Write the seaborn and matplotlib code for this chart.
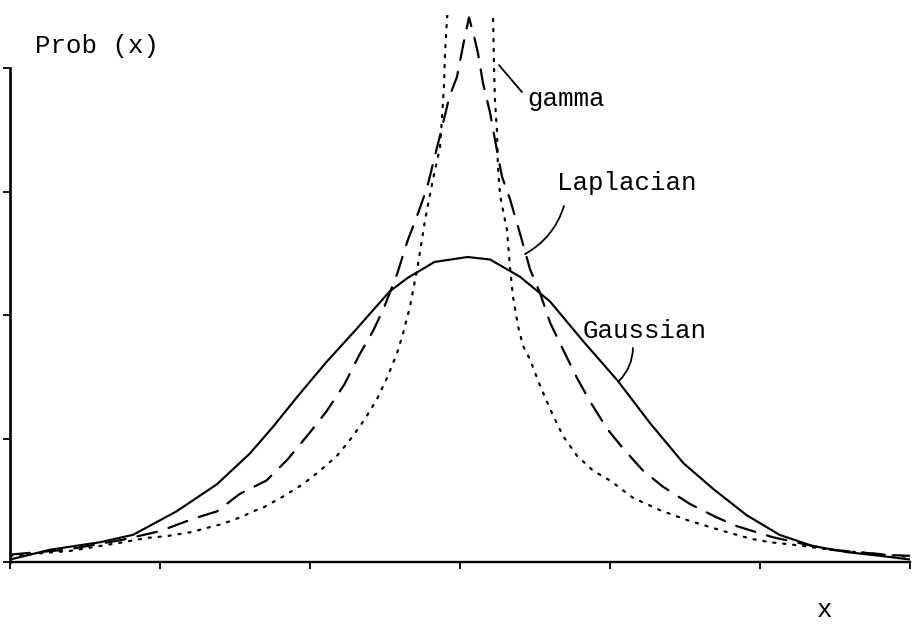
import numpy as np
import pandas as pd
import matplotlib
matplotlib.use("Agg")
import matplotlib.pyplot as plt
import seaborn as sns

# Gaussian density (solid)
gauss_x = [-3.0, -2.73, -2.4, -2.18, -1.89, -1.62, -1.4, -1.25, -1.07, -0.89,
           -0.71, -0.47, -0.35, -0.17, 0.05, 0.2, 0.4, 0.6, 0.82, 1.05,
           1.27, 1.49, 1.69, 1.91, 2.13, 2.35, 2.58, 2.8, 3.0]
gauss_y = [0.02, 0.10, 0.16, 0.22, 0.41, 0.63, 0.88, 1.09, 1.36, 1.62,
           1.86, 2.19, 2.30, 2.43, 2.47, 2.45, 2.31, 2.11, 1.79, 1.47,
           1.12, 0.80, 0.59, 0.38, 0.22, 0.13, 0.08, 0.05, 0.02]

# Laplacian density (dashed)
lap_x = [-3.0, -2.62, -2.25, -2.0, -1.78, -1.62, -1.47, -1.29, -1.15, -1.0,
         -0.89, -0.77, -0.67, -0.58, -0.51, -0.42, -0.35, -0.29, -0.22, -0.13,
         -0.07, -0.02, 0.03, 0.06, 0.093, 0.12, 0.153, 0.2, 0.233, 0.28,
         0.333, 0.4, 0.467, 0.533, 0.6, 0.687, 0.78, 0.867, 0.98, 1.087,
         1.22, 1.353, 1.533, 1.713, 1.847, 1.98, 2.087, 2.313, 2.467, 2.647,
         2.887, 3.0]
lap_y = [0.06, 0.10, 0.18, 0.25, 0.35, 0.41, 0.55, 0.66, 0.83, 1.05,
         1.22, 1.44, 1.68, 1.87, 2.05, 2.33, 2.6, 2.79, 3.03, 3.47,
         3.77, 3.93, 4.24, 4.41, 4.26, 4.12, 3.88, 3.64, 3.42, 3.12,
         2.94, 2.66, 2.37, 2.18, 1.94, 1.72, 1.49, 1.30, 1.08, 0.92,
         0.74, 0.61, 0.47, 0.36, 0.29, 0.24, 0.20, 0.14, 0.10, 0.08,
         0.055, 0.05]

# Gamma density (dotted), two branches rising on either side of the origin
gam_left_x = [-3.0, -2.6, -2.247, -2.087, -1.953, -1.8, -1.58, -1.447, -1.38, -1.313,
              -1.18, -1.047, -0.933, -0.82, -0.72, -0.633, -0.553, -0.487, -0.42, -0.38,
              -0.333, -0.28, -0.233, -0.18, -0.133, -0.12, -0.107, -0.1, -0.087, -0.073]
gam_left_y = [0.05, 0.09, 0.16, 0.195, 0.21, 0.24, 0.31, 0.37, 0.41, 0.44,
              0.53, 0.63, 0.74, 0.86, 1.01, 1.16, 1.32, 1.49, 1.69, 1.85,
              2.07, 2.41, 2.77, 3.10, 3.36, 3.6, 3.85, 4.12, 4.39, 4.6]
gam_right_x = [0.207, 0.22, 0.227, 0.233, 0.247, 0.253, 0.267, 0.313, 0.333, 0.353,
               0.387, 0.42, 0.467, 0.533, 0.6, 0.687, 0.78, 0.887, 1.0, 1.153,
               1.333, 1.513, 1.647, 1.787, 1.933, 2.067, 2.22, 2.467, 2.733, 3.0]
gam_right_y = [4.6, 4.43, 4.0, 3.74, 3.48, 3.2, 2.97, 2.69, 2.39, 2.15,
               1.91, 1.75, 1.64, 1.43, 1.24, 1.02, 0.86, 0.74, 0.66, 0.52,
               0.42, 0.34, 0.29, 0.24, 0.19, 0.16, 0.14, 0.10, 0.07, 0.04]

x_ticks = [-3, -2, -1, 0, 1, 2, 3]
y_ticks = [0, 1, 2, 3, 4]

frames = [
    pd.DataFrame({"x": gauss_x, "y": gauss_y, "curve": "Gaussian", "branch": "g"}),
    pd.DataFrame({"x": lap_x, "y": lap_y, "curve": "Laplacian", "branch": "l"}),
    pd.DataFrame({"x": gam_left_x, "y": gam_left_y, "curve": "gamma", "branch": "gl"}),
    pd.DataFrame({"x": gam_right_x, "y": gam_right_y, "curve": "gamma", "branch": "gr"}),
]
df = pd.concat(frames, ignore_index=True)

sns.set_theme(style="white")
plt.rcParams["font.family"] = ["Liberation Mono", "DejaVu Sans"]

fig = plt.figure(figsize=(9.14, 6.24), dpi=100)
ax = fig.add_axes([10 / 914, 62 / 624, 900 / 914, 547 / 624])

widths = {"Gaussian": 1.55, "Laplacian": 1.6, "gamma": 1.6}
dash_map = {"Gaussian": "", "Laplacian": (9, 5.5), "gamma": (1, 3.5)}
for name in ["Gaussian", "Laplacian", "gamma"]:
    sub = df[df["curve"] == name]
    sns.lineplot(data=sub, x="x", y="y", units="branch", estimator=None,
                 sort=False, color="black", lw=widths[name], ax=ax,
                 legend=False)
    for line in ax.get_lines()[-sub["branch"].nunique():]:
        if dash_map[name]:
            line.set_dashes(dash_map[name])
            line.set_dash_capstyle("round")

ax.set_xlim(-3, 3)
ax.set_ylim(0, 4.43)
ax.set_xticks(x_ticks)
ax.set_yticks(y_ticks)
ax.set_xticklabels([])
ax.set_yticklabels([])
ax.set_xlabel("")
ax.set_ylabel("")
ax.grid(False)

for side in ["top", "right"]:
    ax.spines[side].set_visible(False)
ax.spines["left"].set_bounds(0, 4)
ax.spines["left"].set_linewidth(1.9)
ax.spines["bottom"].set_linewidth(1.7)
ax.spines["left"].set_color("black")
ax.spines["bottom"].set_color("black")
ax.tick_params(axis="both", which="both", direction="out", length=5,
               width=1.3, color="black", bottom=True, left=True)

txt = dict(fontsize=18.5, color="black", family=["Liberation Mono", "DejaVu Sans"])
ax.text(-2.833, 4.12, "Prob (x)", ha="left", va="baseline", **txt)
ax.text(0.447, 3.69, "gamma", ha="left", va="baseline", **txt)
ax.text(0.647, 3.01, "Laplacian", ha="left", va="baseline", **txt)
ax.text(0.82, 1.814, "Gaussian", ha="left", va="baseline", **txt)
ax.text(2.38, -0.445, "x", ha="left", va="baseline", clip_on=False, **txt)

leader = dict(arrowstyle="-", color="black", lw=1.3, shrinkA=0, shrinkB=0)
ax.annotate("", xy=(0.26, 4.024), xytext=(0.413, 3.806),
            arrowprops=dict(connectionstyle="arc3,rad=0.0", **leader))
ax.annotate("", xy=(0.433, 2.494), xytext=(0.693, 2.883),
            arrowprops=dict(connectionstyle="arc3,rad=-0.2", **leader))
ax.annotate("", xy=(1.06, 1.466), xytext=(1.153, 1.733),
            arrowprops=dict(connectionstyle="arc3,rad=-0.2", **leader))

fig.savefig("out.png", dpi=100, facecolor="white")
